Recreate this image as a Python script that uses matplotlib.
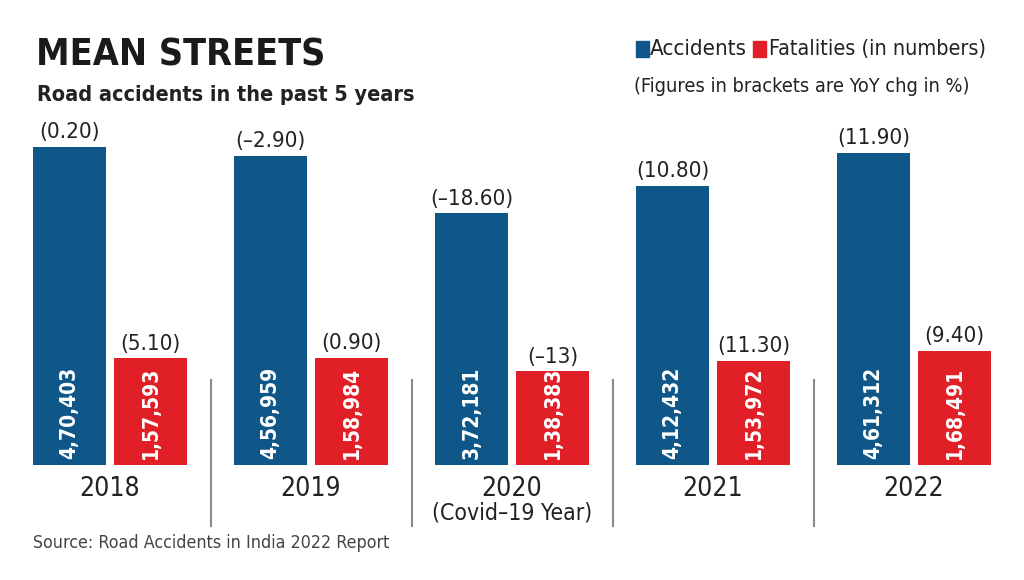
import matplotlib
matplotlib.use("Agg")
import matplotlib.pyplot as plt
from matplotlib import font_manager
from matplotlib.transforms import blended_transform_factory
from matplotlib.patches import Rectangle
import numpy as np

# data
years = ["2018", "2019", "2020", "2021", "2022"]
year_notes = ["", "", "(Covid\u201319 Year)", "", ""]
accidents = [470403, 456959, 372181, 412432, 461312]
fatalities = [157593, 158984, 138383, 153972, 168491]
acc_chg = ["0.20", "\u20132.90", "\u201318.60", "10.80", "11.90"]
fat_chg = ["5.10", "0.90", "\u201313", "11.30", "9.40"]

BLUE = "#0f5788"
RED = "#e01f27"
DARK = "#222222"

# pick a narrow font if one is installed
names = {f.name for f in font_manager.fontManager.ttflist}
stretches = {(f.name, f.stretch) for f in font_manager.fontManager.ttflist}
if "Liberation Sans Narrow" in names:
    FONT = dict(family="Liberation Sans Narrow")
elif any(n == "DejaVu Sans" and s == "condensed" for n, s in stretches):
    FONT = dict(family="DejaVu Sans", stretch="condensed")
else:
    FONT = dict(family="DejaVu Sans")


def indian(n):
    s = str(n)
    last3, rest = s[-3:], s[:-3]
    groups = []
    while len(rest) > 2:
        groups.insert(0, rest[-2:])
        rest = rest[:-2]
    if rest:
        groups.insert(0, rest)
    return ",".join(groups + [last3])


W, H = 1024, 580
fig = plt.figure(figsize=(W / 100, H / 100), dpi=100)
fig.patch.set_facecolor("white")

# axes: full width, baseline at y=465px
ax = fig.add_axes([0, 1 - 465 / H, 1, 465 / H])
ax.axis("off")
ax.set_xlim(-110 / 201, (W - 110) / 201)
ax.set_ylim(0, 465 / 0.000676)

x = np.arange(len(years))
off = 0.2015
bw = 0.368
ax.bar(x - off, accidents, bw, color=BLUE)
ax.bar(x + off, fatalities, bw, color=RED)

for i in range(len(years)):
    for xx, v, chg in [(x[i] - off, accidents[i], acc_chg[i]),
                       (x[i] + off, fatalities[i], fat_chg[i])]:
        ax.annotate(indian(v), (xx, 0), xytext=(0, 4), textcoords="offset points",
                    ha="center", va="bottom", rotation=90, color="white",
                    fontsize=15, fontweight="bold", **FONT)
        ax.annotate("(" + chg + ")", (xx, v), xytext=(0, 3.5), textcoords="offset points",
                    ha="center", va="bottom", color=DARK, fontsize=16, **FONT)

# year labels and separators
bt = blended_transform_factory(ax.transData, fig.transFigure)
for i in range(len(years)):
    ax.text(x[i], 1 - 496 / H, years[i], transform=bt, ha="center", va="baseline",
            fontsize=19, color=DARK, **FONT)
    if year_notes[i]:
        ax.text(x[i], 1 - 520 / H, year_notes[i], transform=bt, ha="center",
                va="baseline", fontsize=16.5, color=DARK, **FONT)
for i in range(len(years) - 1):
    ax.plot([x[i] + 0.5, x[i] + 0.5], [1 - 526 / H, 1 - 380 / H], transform=bt,
            color="#8a8a8a", lw=1.5, clip_on=False)

# titles
fig.text(36 / W, 1 - 65 / H, "MEAN STREETS", fontsize=27, fontweight="heavy",
         color="#1a1a1a", va="baseline", **FONT)
fig.text(37 / W, 1 - 101 / H, "Road accidents in the past 5 years", fontsize=15.5,
         fontweight="semibold", color=DARK, va="baseline", **FONT)

# legend
fig.patches.append(Rectangle((636 / W, 1 - 57 / H), 13 / W, 16 / H,
                             transform=fig.transFigure, color=BLUE))
fig.text(650 / W, 1 - 55 / H, "Accidents", fontsize=16, color=DARK, va="baseline", **FONT)
fig.patches.append(Rectangle((753 / W, 1 - 57 / H), 13 / W, 16 / H,
                             transform=fig.transFigure, color=RED))
fig.text(769 / W, 1 - 55 / H, "Fatalities (in numbers)", fontsize=15.5, color=DARK,
         va="baseline", **FONT)
fig.text(634 / W, 1 - 92 / H, "(Figures in brackets are YoY chg in %)", fontsize=14.3,
         color=DARK, va="baseline", **FONT)

fig.text(33 / W, 1 - 548 / H, "Source: Road Accidents in India 2022 Report",
         fontsize=12.8, color="#444444", va="baseline", **FONT)

fig.savefig("out.png", dpi=100, facecolor="white")
